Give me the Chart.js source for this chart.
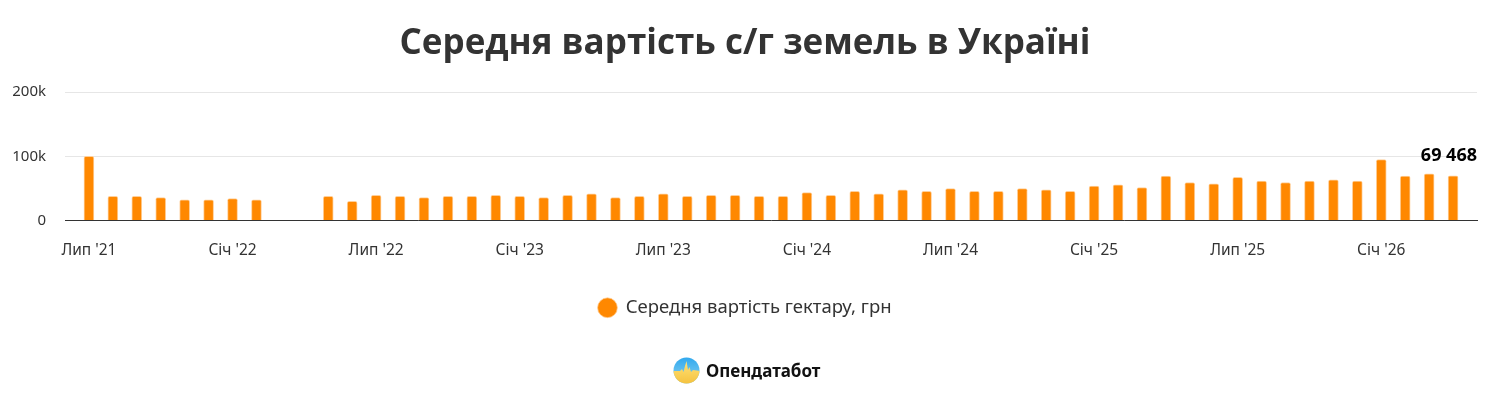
<!DOCTYPE html>
<html>
<head>
<meta charset="utf-8">
<script src="https://cdn.jsdelivr.net/npm/chart.js@4.4.1/dist/chart.umd.min.js"></script>
<style>
  html, body { margin: 0; padding: 0; background: #fff; }
  #wrap { position: relative; width: 1490px; height: 401px; }
  #logo { position: absolute; left: 673px; top: 356px; height: 28px; display: flex; align-items: center; gap: 6px;
          font: bold 17px 'Noto Sans', sans-serif; color: #111; }
</style>
</head>
<body>
<div id="wrap">
  <canvas id="chart" width="1490" height="401"></canvas>
  <div id="logo">
    <svg width="27" height="27" viewBox="0 0 27 27">
      <defs>
        <linearGradient id="blue" x1="0" y1="0" x2="0" y2="1">
          <stop offset="0" stop-color="#2fa8ee"/>
          <stop offset="1" stop-color="#8ed3f0"/>
        </linearGradient>
        <linearGradient id="yellow" x1="0" y1="0" x2="0" y2="1">
          <stop offset="0" stop-color="#ffe27a"/>
          <stop offset="1" stop-color="#f5c23e"/>
        </linearGradient>
        <clipPath id="cp"><circle cx="13.5" cy="13.5" r="13"/></clipPath>
      </defs>
      <g clip-path="url(#cp)">
        <rect x="0" y="0" width="27" height="27" fill="url(#blue)"/>
        <polygon points="0,27 0,14 7,14 9,12 10.5,15 12,9 13.5,4 15,13 16.5,10 18,15 20,13 27,14 27,27" fill="url(#yellow)"/>
      </g>
    </svg>
    <span>Опендатабот</span>
  </div>
</div>
<script>
const categories = [
  "Лип '21", "Сер '21", "Вер '21", "Жов '21", "Лис '21", "Гру '21",
  "Січ '22", "Лют '22", "Бер '22", "Кві '22", "Тра '22", "Чер '22",
  "Лип '22", "Сер '22", "Вер '22", "Жов '22", "Лис '22", "Гру '22",
  "Січ '23", "Лют '23", "Бер '23", "Кві '23", "Тра '23", "Чер '23",
  "Лип '23", "Сер '23", "Вер '23", "Жов '23", "Лис '23", "Гру '23",
  "Січ '24", "Лют '24", "Бер '24", "Кві '24", "Тра '24", "Чер '24",
  "Лип '24", "Сер '24", "Вер '24", "Жов '24", "Лис '24", "Гру '24",
  "Січ '25", "Лют '25", "Бер '25", "Кві '25", "Тра '25", "Чер '25",
  "Лип '25", "Сер '25", "Вер '25", "Жов '25", "Лис '25", "Гру '25",
  "Січ '26", "Лют '26", "Бер '26", "Кві '26"
];

// середня вартість гектару, грн (березень-квітень 2022 без даних)
const values = [
  100000, 37700, 37600, 35600, 32000, 32000,
  34000, 32000, null, null, 37700, 29800,
  39300, 37700, 35600, 37700, 37700, 39300,
  37700, 35600, 39300, 41400, 35600, 37700,
  41400, 37700, 39300, 39300, 37700, 37700,
  43500, 39300, 45500, 41400, 47600, 45500,
  49700, 45500, 45500, 49700, 47600, 45500,
  53400, 55500, 51300, 69100, 59200, 57100,
  67000, 61300, 59200, 61300, 63400, 61300,
  94800, 69100, 72800, 69468
];

const seriesName = 'Середня вартість гектару, грн';
const yTicks = [0, 100000, 200000];
const tickMonths = ['Січ', 'Лип'];

const barColor = '#ff8800';
const textColor = '#333333';
const fontFamily = "'Noto Sans', 'Open Sans', sans-serif";

// підпис останнього значення
const lastValueLabel = {
  id: 'lastValueLabel',
  afterDatasetsDraw(chart) {
    const meta = chart.getDatasetMeta(0);
    const i = values.length - 1;
    const bar = meta.data[i];
    if (!bar) return;
    const c = chart.ctx;
    const text = String(values[i]).replace(/\B(?=(\d{3})+(?!\d))/g, ' ');
    c.save();
    c.font = "bold 18px " + fontFamily;
    c.fillStyle = '#000';
    c.textAlign = 'right';
    c.textBaseline = 'middle';
    c.fillText(text, chart.chartArea.right, bar.y - 20);
    c.restore();
  }
};

Chart.defaults.font.family = fontFamily;

new Chart(document.getElementById('chart'), {
  type: 'bar',
  data: {
    datasets: [{
      label: seriesName,
      data: values.map((v, i) => ({ x: i, y: v })),
      backgroundColor: barColor,
      borderColor: '#ffcf99',
      borderWidth: { left: 1, right: 1, top: 1, bottom: 0 },
      borderRadius: { topLeft: 2, topRight: 2 },
      borderSkipped: 'start',
      barThickness: 10
    }]
  },
  options: {
    responsive: false,
    animation: false,
    layout: { padding: { left: 13, right: 13, top: 0, bottom: 74 } },
    scales: {
      x: {
        type: 'linear',
        offset: false,
        min: -1,
        max: categories.length,
        grid: { display: false, drawTicks: false, offset: false },
        border: { color: '#333', width: 1 },
        afterBuildTicks: s => {
          s.ticks = categories
            .map((c, i) => ({ value: i, label: c }))
            .filter(t => tickMonths.includes(t.label.slice(0, 3)))
            .map(t => ({ value: t.value }));
        },
        ticks: {
          autoSkip: false,
          maxRotation: 0,
          padding: 21,
          color: textColor,
          font: { size: 15.5 },
          callback: v => categories[v]
        },
        afterFit: s => { s.height = 68; }
      },
      y: {
        min: 0,
        max: 200000,
        afterBuildTicks: s => { s.ticks = yTicks.map(v => ({ value: v })); },
        grid: { color: '#e6e6e6', drawTicks: false },
        border: { display: false },
        ticks: {
          padding: 19,
          color: textColor,
          font: { size: 15 },
          callback: v => v === 0 ? '0' : (v / 1000) + 'k'
        },
        afterFit: s => { s.width = 52; }
      }
    },
    plugins: {
      title: {
        display: true,
        text: 'Середня вартість с/г земель в Україні',
        color: textColor,
        font: { size: 35, weight: 'bold', family: "'Open Sans', sans-serif" },
        padding: { top: 23, bottom: 27 }
      },
      legend: {
        position: 'bottom',
        labels: {
          usePointStyle: true,
          pointStyle: 'circle',
          boxWidth: 18,
          boxHeight: 14,
          padding: 10,
          color: textColor,
          font: { size: 18.5 }
        }
      },
      tooltip: { enabled: false }
    }
  },
  plugins: [lastValueLabel]
});
</script>
</body>
</html>
